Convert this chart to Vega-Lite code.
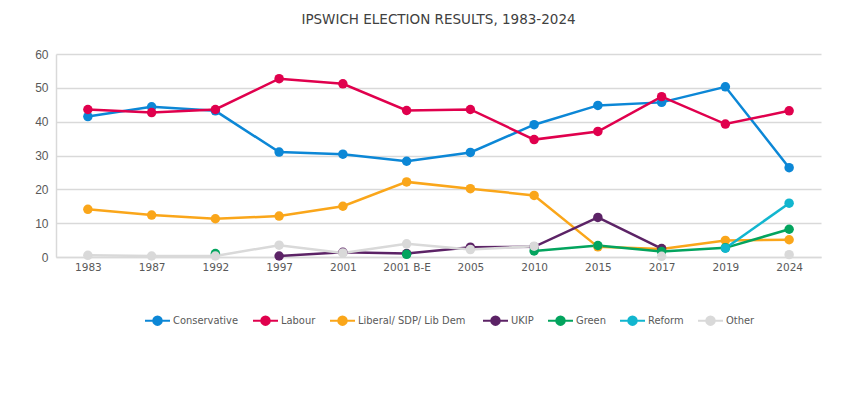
{
  "$schema": "https://vega.github.io/schema/vega-lite/v6.json",
  "width": 765,
  "height": 203,
  "padding": {"left": 34, "right": 29, "top": 12, "bottom": 70},
  "background": "white",
  "title": {
    "text": "IPSWICH ELECTION RESULTS, 1983-2024",
    "font": "'DejaVu Sans', sans-serif",
    "fontSize": 13.5,
    "fontWeight": "normal",
    "color": "#404040",
    "offset": 22,
    "anchor": "middle"
  },
  "data": {
    "values": [
      {"election": "1983", "party": "Conservative", "share": 41.5},
      {"election": "1987", "party": "Conservative", "share": 44.4},
      {"election": "1992", "party": "Conservative", "share": 43.2},
      {"election": "1997", "party": "Conservative", "share": 31.0},
      {"election": "2001", "party": "Conservative", "share": 30.4},
      {"election": "2001 B-E", "party": "Conservative", "share": 28.3},
      {"election": "2005", "party": "Conservative", "share": 30.9},
      {"election": "2010", "party": "Conservative", "share": 39.1},
      {"election": "2015", "party": "Conservative", "share": 44.8},
      {"election": "2017", "party": "Conservative", "share": 45.7},
      {"election": "2019", "party": "Conservative", "share": 50.3},
      {"election": "2024", "party": "Conservative", "share": 26.4},
      {"election": "1983", "party": "Labour", "share": 43.6},
      {"election": "1987", "party": "Labour", "share": 42.7},
      {"election": "1992", "party": "Labour", "share": 43.6},
      {"election": "1997", "party": "Labour", "share": 52.7},
      {"election": "2001", "party": "Labour", "share": 51.2},
      {"election": "2001 B-E", "party": "Labour", "share": 43.3},
      {"election": "2005", "party": "Labour", "share": 43.6},
      {"election": "2010", "party": "Labour", "share": 34.7},
      {"election": "2015", "party": "Labour", "share": 37.1},
      {"election": "2017", "party": "Labour", "share": 47.4},
      {"election": "2019", "party": "Labour", "share": 39.3},
      {"election": "2024", "party": "Labour", "share": 43.2},
      {"election": "1983", "party": "Liberal/ SDP/ Lib  Dem", "share": 14.1},
      {"election": "1987", "party": "Liberal/ SDP/ Lib  Dem", "share": 12.4},
      {"election": "1992", "party": "Liberal/ SDP/ Lib  Dem", "share": 11.3},
      {"election": "1997", "party": "Liberal/ SDP/ Lib  Dem", "share": 12.1},
      {"election": "2001", "party": "Liberal/ SDP/ Lib  Dem", "share": 15.0},
      {"election": "2001 B-E", "party": "Liberal/ SDP/ Lib  Dem", "share": 22.2},
      {"election": "2005", "party": "Liberal/ SDP/ Lib  Dem", "share": 20.2},
      {"election": "2010", "party": "Liberal/ SDP/ Lib  Dem", "share": 18.2},
      {"election": "2015", "party": "Liberal/ SDP/ Lib  Dem", "share": 3.0},
      {"election": "2017", "party": "Liberal/ SDP/ Lib  Dem", "share": 2.4},
      {"election": "2019", "party": "Liberal/ SDP/ Lib  Dem", "share": 4.9},
      {"election": "2024", "party": "Liberal/ SDP/ Lib  Dem", "share": 5.1},
      {"election": "1997", "party": "UKIP", "share": 0.3},
      {"election": "2001", "party": "UKIP", "share": 1.4},
      {"election": "2001 B-E", "party": "UKIP", "share": 1.0},
      {"election": "2005", "party": "UKIP", "share": 2.9},
      {"election": "2010", "party": "UKIP", "share": 3.0},
      {"election": "2015", "party": "UKIP", "share": 11.7},
      {"election": "2017", "party": "UKIP", "share": 2.5},
      {"election": "1992", "party": "Green", "share": 1.0},
      {"election": "1997", "party": "Green", "share": null},
      {"election": "2001 B-E", "party": "Green", "share": 0.8},
      {"election": "2005", "party": "Green", "share": null},
      {"election": "2010", "party": "Green", "share": 1.8},
      {"election": "2015", "party": "Green", "share": 3.4},
      {"election": "2017", "party": "Green", "share": 1.6},
      {"election": "2019", "party": "Green", "share": 2.7},
      {"election": "2024", "party": "Green", "share": 8.2},
      {"election": "2019", "party": "Reform", "share": 2.6},
      {"election": "2024", "party": "Reform", "share": 15.9},
      {"election": "1983", "party": "Other", "share": 0.5},
      {"election": "1987", "party": "Other", "share": 0.3},
      {"election": "1992", "party": "Other", "share": 0.3},
      {"election": "1997", "party": "Other", "share": 3.5},
      {"election": "2001", "party": "Other", "share": 1.2},
      {"election": "2001 B-E", "party": "Other", "share": 3.9},
      {"election": "2005", "party": "Other", "share": 2.2},
      {"election": "2010", "party": "Other", "share": 3.2},
      {"election": "2015", "party": "Other", "share": null},
      {"election": "2017", "party": "Other", "share": 0.2},
      {"election": "2019", "party": "Other", "share": null},
      {"election": "2024", "party": "Other", "share": 0.7}
    ]
  },
  "mark": {
    "type": "line",
    "strokeWidth": 2.5,
    "point": {"filled": true, "size": 90}
  },
  "encoding": {
    "x": {
      "field": "election",
      "type": "ordinal",
      "sort": ["1983", "1987", "1992", "1997", "2001", "2001 B-E", "2005", "2010", "2015", "2017", "2019", "2024"],
      "scale": {"type": "point", "padding": 0.5},
      "axis": {
        "title": null,
        "labelAngle": 0,
        "ticks": false,
        "grid": false,
        "domainColor": "#D9D9D9",
        "domainWidth": 1.5,
        "labelColor": "#595959",
        "labelFont": "'DejaVu Sans', sans-serif",
        "labelFontSize": 10.5,
        "labelPadding": 5
      }
    },
    "y": {
      "field": "share",
      "type": "quantitative",
      "scale": {"domain": [0, 60]},
      "axis": {
        "title": null,
        "values": [0, 10, 20, 30, 40, 50, 60],
        "labelOverlap": false,
        "ticks": false,
        "gridColor": "#D9D9D9",
        "gridWidth": 1.5,
        "domainColor": "#D9D9D9",
        "domainWidth": 1.5,
        "labelColor": "#595959",
        "labelFont": "'Liberation Sans', sans-serif",
        "labelFontSize": 12,
        "labelPadding": 8
      }
    },
    "color": {
      "field": "party",
      "type": "nominal",
      "sort": ["Conservative", "Labour", "Liberal/ SDP/ Lib  Dem", "UKIP", "Green", "Reform", "Other"],
      "scale": {
        "domain": ["Conservative", "Labour", "Liberal/ SDP/ Lib  Dem", "UKIP", "Green", "Reform", "Other"],
        "range": ["#0C87D6", "#E0004D", "#FAA61A", "#5C2366", "#03A45E", "#12B6CF", "#D9D9D9"]
      },
      "legend": {
        "title": null,
        "orient": "none",
        "direction": "horizontal",
        "legendX": 88,
        "legendY": 253,
        "symbolType": "M-1,0H1M-0.34,0A0.34,0.34 0 1,1 0.34,0A0.34,0.34 0 1,1 -0.34,0Z",
        "symbolSize": 625,
        "symbolStrokeWidth": 2,
        "symbolOffset": 0,
        "labelFont": "'DejaVu Sans Condensed', 'Liberation Sans', sans-serif",
        "labelFontSize": 11,
        "labelColor": "#595959",
        "labelOffset": 2,
        "columnPadding": 10
      }
    }
  },
  "config": {
    "view": {"stroke": null}
  }
}
